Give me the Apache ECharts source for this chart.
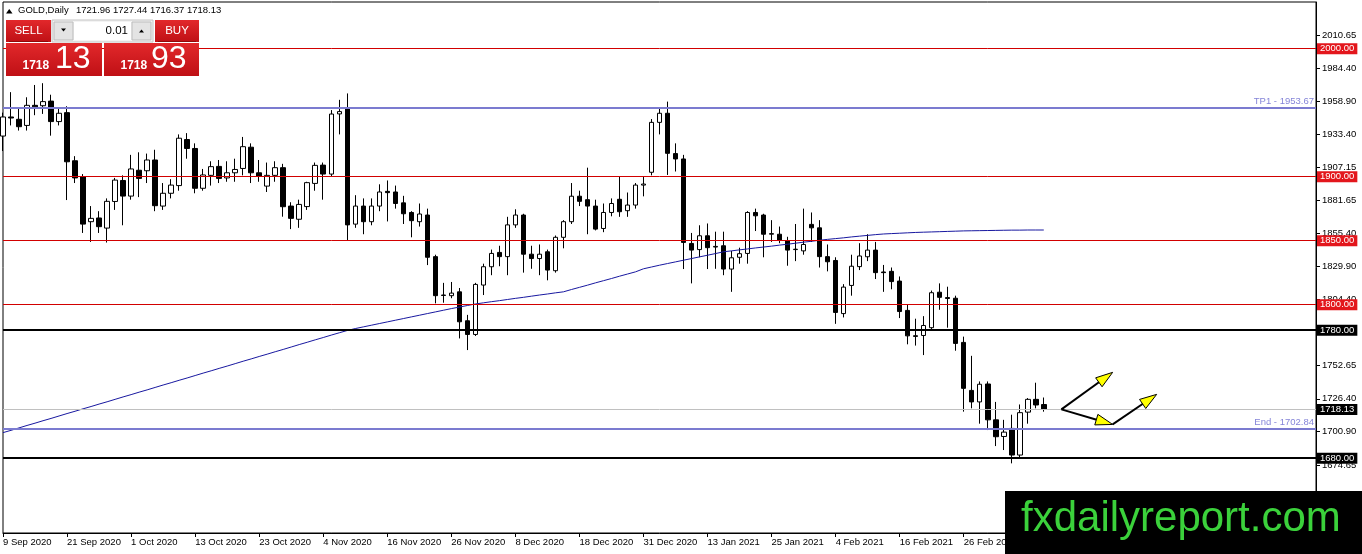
<!DOCTYPE html>
<html><head><meta charset="utf-8">
<script src="https://cdn.jsdelivr.net/npm/echarts@6/dist/echarts.min.js"></script>
<style>html,body{margin:0;padding:0;background:#fff}#c{width:1362px;height:554px}</style>
</head><body><div id="c"></div>
<script>
const dates = [
'9 Sep 2020','10 Sep 2020','11 Sep 2020','14 Sep 2020','15 Sep 2020','16 Sep 2020','17 Sep 2020','18 Sep 2020','21 Sep 2020','22 Sep 2020','23 Sep 2020','24 Sep 2020','25 Sep 2020','28 Sep 2020','29 Sep 2020','30 Sep 2020',
'1 Oct 2020','2 Oct 2020','5 Oct 2020','6 Oct 2020','7 Oct 2020','8 Oct 2020','9 Oct 2020','12 Oct 2020','13 Oct 2020','14 Oct 2020','15 Oct 2020','16 Oct 2020','19 Oct 2020','20 Oct 2020','21 Oct 2020','22 Oct 2020','23 Oct 2020','26 Oct 2020','27 Oct 2020','28 Oct 2020','29 Oct 2020','30 Oct 2020',
'2 Nov 2020','3 Nov 2020','4 Nov 2020','5 Nov 2020','6 Nov 2020','9 Nov 2020','10 Nov 2020','11 Nov 2020','12 Nov 2020','13 Nov 2020','16 Nov 2020','17 Nov 2020','18 Nov 2020','19 Nov 2020','20 Nov 2020','23 Nov 2020','24 Nov 2020','25 Nov 2020','26 Nov 2020','27 Nov 2020','30 Nov 2020',
'1 Dec 2020','2 Dec 2020','3 Dec 2020','4 Dec 2020','7 Dec 2020','8 Dec 2020','9 Dec 2020','10 Dec 2020','11 Dec 2020','14 Dec 2020','15 Dec 2020','16 Dec 2020','17 Dec 2020','18 Dec 2020','21 Dec 2020','22 Dec 2020','23 Dec 2020','24 Dec 2020','28 Dec 2020','29 Dec 2020','30 Dec 2020','31 Dec 2020',
'4 Jan 2021','5 Jan 2021','6 Jan 2021','7 Jan 2021','8 Jan 2021','11 Jan 2021','12 Jan 2021','13 Jan 2021','14 Jan 2021','15 Jan 2021','18 Jan 2021','19 Jan 2021','20 Jan 2021','21 Jan 2021','22 Jan 2021','25 Jan 2021','26 Jan 2021','27 Jan 2021','28 Jan 2021','29 Jan 2021',
'1 Feb 2021','2 Feb 2021','3 Feb 2021','4 Feb 2021','5 Feb 2021','8 Feb 2021','9 Feb 2021','10 Feb 2021','11 Feb 2021','12 Feb 2021','15 Feb 2021','16 Feb 2021','17 Feb 2021','18 Feb 2021','19 Feb 2021','22 Feb 2021','23 Feb 2021','24 Feb 2021','25 Feb 2021','26 Feb 2021',
'1 Mar 2021','2 Mar 2021','3 Mar 2021','4 Mar 2021','5 Mar 2021','8 Mar 2021','9 Mar 2021','10 Mar 2021','11 Mar 2021','12 Mar 2021'];
const openP = [1931.7,1946.6,1944.8,1940.0,1955.7,1955.4,1959.0,1943.0,1950.0,1912.4,1900.0,1864.8,1867.7,1859.8,1880.6,1897.0,
1884.8,1905.0,1904.6,1913.0,1877.0,1887.0,1893.0,1929.0,1922.0,1890.9,1901.0,1908.0,1899.0,1903.0,1906.4,1923.0,1903.0,1892.6,1901.0,1907.0,1877.0,1866.7,
1876.6,1894.7,1909.0,1902.0,1949.0,1953.4,1862.9,1877.0,1864.8,1877.0,1888.5,1888.0,1879.5,1872.0,1864.8,1870.0,1837.5,1807.5,1807.0,1810.0,1787.4,
1776.7,1815.3,1829.6,1840.8,1837.5,1862.3,1870.0,1839.4,1836.0,1841.3,1826.5,1852.6,1864.8,1884.7,1882.0,1877.0,1859.5,1872.0,1882.3,1873.4,1877.8,1893.4,
1903.4,1942.4,1949.5,1918.0,1913.8,1847.8,1843.0,1853.8,1845.0,1846.0,1827.8,1837.0,1840.0,1872.0,1870.0,1855.0,1855.0,1850.0,1843.0,1842.0,
1862.7,1860.0,1837.5,1834.5,1793.0,1815.0,1829.7,1837.4,1842.6,1825.5,1826.0,1818.4,1795.5,1775.7,1775.9,1782.0,1809.7,1805.5,1805.0,1770.5,
1733.0,1724.0,1738.0,1710.0,1697.0,1703.3,1682.5,1716.0,1726.0,1721.96];
const highP = [1950,1966,1953,1962,1971.6,1973,1964,1954,1955,1916,1902,1877,1873,1883,1899,1901,
1917,1919,1918,1921,1895,1898,1933,1934,1926,1906,1912,1913,1912,1914,1931,1926,1913,1911,1912,1910,1880,1882,
1896,1911,1911,1952,1960,1965,1885.5,1883,1883,1894,1897,1893,1885,1873,1879,1875,1839,1817,1817.7,1813,1792,
1817,1832,1843,1846,1868.6,1874.5,1871,1846,1847,1843,1854,1866,1895,1889,1907,1882,1879,1883,1900,1887.6,1895,1900,
1945,1954,1958.6,1926,1917,1856,1862,1863.4,1857,1857,1842,1844.5,1873,1875,1871,1866,1861,1853,1863,1875,
1872,1866,1847,1837,1816,1839,1848,1855,1849,1831,1829,1822,1800,1789,1791,1811,1816.6,1814,1807,1775,
1760,1740,1740,1724,1710,1714,1722,1727,1739,1727.44];
const lowP = [1920,1940,1936,1936,1948,1949,1932,1940,1881.7,1895,1856,1849,1856,1848.5,1874,1862,
1882,1884,1895,1873,1874,1883,1889,1914,1887,1889,1893,1895,1896,1896,1901,1895,1896,1888,1896,1868.7,1859,1860,
1874,1889,1882,1900,1933,1850.5,1860,1855,1862,1873,1865,1875,1863,1852.6,1861,1830.9,1801,1801.5,1805,1773.6,1764.5,
1775.5,1807.5,1823,1830,1823,1860,1825,1828,1823,1819,1825,1844,1863,1877,1855,1858,1856.6,1869,1868.6,1868.6,1875,1884.6,
1901,1933,1901.3,1904,1827.8,1816.6,1837,1827.8,1828,1823,1810,1832,1832,1857.5,1837,1849,1848,1830.4,1834,1839,
1849,1829,1826,1785,1790,1807,1827,1834,1820,1810,1812,1789.5,1769,1768,1760.6,1780,1796,1782,1764,1716.4,
1719,1707,1702,1689.5,1686.4,1676,1680,1707,1719,1716.37];
const closeP = [1946.6,1945.8,1939.0,1955.7,1954.5,1958.6,1943.0,1949.5,1911.6,1899.0,1862.9,1867.4,1860.9,1880.7,1897.3,1884.8,
1906.0,1898.6,1913.0,1877.3,1887.0,1893.4,1930.0,1922.0,1890.9,1901.3,1907.8,1898.6,1903.0,1905.6,1923.4,1903.0,1900.4,1901.0,1907.0,1876.5,1867.4,1878.3,
1895.3,1908.8,1902.0,1948.9,1950.8,1862.3,1877.0,1864.8,1877.0,1888.0,1887.5,1879.0,1871.0,1865.6,1870.8,1837.0,1807.0,1807.2,1809.0,1786.6,1776.7,
1815.8,1829.6,1840.0,1837.5,1862.3,1870.0,1839.4,1836.0,1839.4,1827.0,1852.6,1864.8,1884.7,1880.7,1877.0,1859.0,1872.0,1879.0,1872.6,1877.8,1893.4,1894.2,
1942.4,1949.5,1918.2,1913.8,1848.6,1842.6,1853.8,1844.5,1845.5,1827.8,1836.6,1839.8,1872.0,1869.4,1855.0,1855.5,1850.5,1842.6,1843.3,1847.0,
1860.0,1837.5,1833.5,1793.9,1813.7,1830.0,1838.0,1842.6,1825.0,1825.0,1818.0,1794.6,1775.6,1775.2,1783.7,1809.3,1805.7,1804.8,1769.7,1734.6,
1724.0,1737.8,1710.0,1696.8,1700.4,1682.5,1715.6,1726.0,1721.6,1718.13];
const ma = [1700.0,1701.8,1703.7,1705.6,1707.4,1709.3,1711.1,1713.0,1714.9,1716.7,1718.6,1720.4,1722.3,1724.1,1726.0,1727.9,
1729.7,1731.6,1733.4,1735.3,1737.2,1739.0,1740.9,1742.7,1744.6,1746.5,1748.3,1750.2,1752.0,1753.9,1755.8,1757.6,1759.5,1761.3,1763.2,1765.0,1766.9,1768.8,
1770.6,1772.5,1774.3,1776.2,1778.0,1779.8,1781.3,1782.6,1783.9,1785.2,1786.5,1787.8,1789.1,1790.4,1791.7,1793.0,1794.3,1795.6,1796.9,1798.1,1799.3,
1800.5,1801.4,1802.3,1803.1,1804.0,1804.9,1805.7,1806.6,1807.5,1808.3,1809.2,1810.0,1811.8,1813.5,1815.2,1817.0,1818.7,1820.4,1822.2,1823.9,1825.6,1828.0,
1829.4,1830.8,1832.1,1833.4,1834.7,1836.0,1837.3,1838.6,1839.9,1841.3,1842.0,1842.8,1843.5,1844.3,1845.0,1845.7,1846.5,1847.2,1848.0,1848.8,
1849.5,1850.3,1851.0,1851.6,1852.2,1852.9,1853.5,1854.1,1854.7,1855.2,1855.5,1855.8,1856.1,1856.4,1856.6,1856.8,1857.0,1857.2,1857.4,1857.6,
1857.7,1857.8,1857.9,1858.0,1858.1,1858.2,1858.2,1858.3,1858.3,1858.3];
const yTickValues = [2010.65,1984.40,1958.90,1933.40,1907.15,1881.65,1855.40,1829.90,1804.40,1778.90,1752.65,1726.40,1700.90,1674.65];
const redLevels = [2000, 1900, 1850, 1800];
const blackLevels = [1780, 1680];
const targetNames = ['TP1', 'End'];
const targetValues = [1953.67, 1702.84];
const lastPrice = 1718.13;
const headerSymbol = 'GOLD,Daily';
const headerOHLC = [1721.96, 1727.44, 1716.37, 1718.13];
const bidParts = ['1718', '13'];
const askParts = ['1718', '93'];
const lotSize = '0.01';
// arrows: [fromIndex, fromPrice] -> [toIndex, toPrice]
const arrowFrom = [[132.2, 1718.2], [132.2, 1718.2], [138.6, 1706.4]];
const arrowTo = [[138.6, 1747.1], [138.6, 1706.4], [144.1, 1729.9]];
const futureSlots = 34;

const FONT = '"Liberation Sans", Arial, sans-serif';
const categories = dates.concat(new Array(futureSlots).fill(''));
const candleData = dates.map((d, i) => [openP[i], closeP[i], lowP[i], highP[i]]);

const tag = (v, bg) => ({
  yAxis: v,
  lineStyle: {},
  label: {show: true, position: 'end', distance: 1, formatter: v.toFixed(2),
    backgroundColor: bg, color: '#fff', padding: [1, 3, 0, 3], fontSize: 9.5, fontFamily: FONT, lineHeight: 10}
});
const markData = [];
redLevels.forEach(v => { const t = tag(v, '#e3161c'); t.lineStyle = {color: '#d20000', width: 1, type: 'solid'}; markData.push(t); });
blackLevels.forEach(v => { const t = tag(v, '#000'); t.lineStyle = {color: '#000', width: 2, type: 'solid'}; markData.push(t); });
{ const t = tag(lastPrice, '#000'); t.lineStyle = {color: '#c0c0c0', width: 1, type: 'solid'}; markData.push(t); }
targetValues.forEach((v, i) => markData.push({
  yAxis: v,
  lineStyle: {color: '#7b7bd0', width: 2, type: 'solid'},
  label: {show: true, position: 'insideEndTop', distance: 2, formatter: targetNames[i] + ' - ' + v.toFixed(2),
    color: '#8585d8', fontSize: 9.5, fontFamily: FONT}
}));

const chart = echarts.init(document.getElementById('c'), null, {renderer: 'canvas'});
chart.setOption({
  animation: false,
  backgroundColor: '#fff',
  grid: {left: 3, right: 46, top: 2, bottom: 21, show: true, borderColor: '#000', borderWidth: 1, containLabel: false, outerBoundsMode: 'none'},
  xAxis: {
    type: 'category', data: categories, boundaryGap: false,
    axisLine: {show: true, lineStyle: {color: '#000', width: 1}},
    axisTick: {show: true, interval: 7, length: 4, lineStyle: {color: '#000'}},
    axisLabel: {show: true, interval: 7, align: 'left', margin: 4, color: '#000', fontSize: 9.5, fontFamily: FONT, showMinLabel: true, showMaxLabel: false},
    splitLine: {show: false}
  },
  yAxis: {
    type: 'value', position: 'right', min: 1621.59, max: 2036.43, scale: true,
    axisLine: {show: true, lineStyle: {color: '#000', width: 1}},
    axisTick: {show: true, length: 4, customValues: yTickValues, lineStyle: {color: '#000'}},
    axisLabel: {show: true, customValues: yTickValues, margin: 6, color: '#000', fontSize: 9.5, fontFamily: FONT, formatter: v => v.toFixed(2)},
    splitLine: {show: false}
  },
  series: [
    {
      type: 'candlestick', data: candleData, barWidth: 5, clip: true,
      itemStyle: {color: '#fff', color0: '#000', borderColor: '#000', borderColor0: '#000', borderWidth: 1},
      markLine: {silent: true, symbol: ['none', 'none'], animation: false, data: markData}
    },
    {
      type: 'line', data: ma, showSymbol: false, symbol: 'none', clip: true,
      lineStyle: {color: '#1818a0', width: 1}, z: 3
    }
  ]
});

// graphic overlay
const G = [];
const redGrad = () => new echarts.graphic.LinearGradient(0, 0, 0, 1, [{offset: 0, color: '#e2282b'}, {offset: 1, color: '#bf1015'}]);
// text placed by its baseline: y given is the baseline, converted to a middle anchor
const txt = (x, base, text, size, fill, opts) => Object.assign({type: 'text', x: x, y: base - 0.33 * size, z: 101,
  style: Object.assign({text: text, fill: fill, fontSize: size, fontFamily: FONT, align: 'left', verticalAlign: 'middle', textAlign: 'left', textVerticalAlign: 'middle'}, opts || {})});
// header
G.push({type: 'polygon', z: 101, shape: {points: [[6, 13.5], [12.5, 13.5], [9.25, 9]]}, style: {fill: '#000'}});
G.push(txt(18, 14, headerSymbol, 9.5, '#000'));
G.push(txt(76, 14, headerOHLC.map(v => v.toFixed(2)).join(' '), 9.5, '#000'));
// sell / buy buttons
G.push({type: 'rect', z: 100, shape: {x: 6, y: 20, width: 45, height: 22}, style: {fill: redGrad()}});
G.push({type: 'line', z: 101, shape: {x1: 9, y1: 41.5, x2: 48, y2: 41.5}, style: {stroke: '#8e0a0a', lineWidth: 1}});
G.push(txt(28.5, 35, 'SELL', 11.5, '#fff', {align: 'center', textAlign: 'center'}));
G.push({type: 'rect', z: 100, shape: {x: 52, y: 20, width: 101, height: 22}, style: {fill: '#f3f3f3', stroke: '#c4c4c4', lineWidth: 1}});
G.push({type: 'rect', z: 100, shape: {x: 54, y: 22, width: 19, height: 18}, style: {fill: '#e4e4e4', stroke: '#bdbdbd', lineWidth: 1}});
G.push({type: 'rect', z: 100, shape: {x: 74, y: 22, width: 57, height: 18}, style: {fill: '#fff'}});
G.push({type: 'rect', z: 100, shape: {x: 132, y: 22, width: 19, height: 18}, style: {fill: '#e4e4e4', stroke: '#bdbdbd', lineWidth: 1}});
G.push({type: 'polygon', z: 101, shape: {points: [[61, 28.5], [66, 28.5], [63.5, 31.5]]}, style: {fill: '#000'}});
G.push({type: 'polygon', z: 101, shape: {points: [[139, 32.5], [144, 32.5], [141.5, 29.5]]}, style: {fill: '#000'}});
G.push(txt(128, 35, lotSize, 11.5, '#000', {align: 'right', textAlign: 'right'}));
G.push({type: 'rect', z: 100, shape: {x: 155, y: 20, width: 44, height: 22}, style: {fill: redGrad()}});
G.push({type: 'line', z: 101, shape: {x1: 158, y1: 41.5, x2: 196, y2: 41.5}, style: {stroke: '#8e0a0a', lineWidth: 1}});
G.push(txt(177, 35, 'BUY', 11.5, '#fff', {align: 'center', textAlign: 'center'}));
// price boxes
G.push({type: 'rect', z: 100, shape: {x: 6, y: 43, width: 96, height: 33}, style: {fill: redGrad()}});
G.push({type: 'rect', z: 100, shape: {x: 104, y: 43, width: 95, height: 33}, style: {fill: redGrad()}});
G.push(txt(22.5, 69.5, bidParts[0], 12, '#fff', {fontWeight: 'bold'}));
G.push(txt(55, 69.5, bidParts[1], 32, '#fff'));
G.push(txt(120.5, 69.5, askParts[0], 12, '#fff', {fontWeight: 'bold'}));
G.push(txt(151, 69.5, askParts[1], 32, '#fff'));

// arrows placed through the chart's scales
const toPx = (idx, price) => {
  const a = chart.convertToPixel({gridIndex: 0}, [0, price]);
  const b = chart.convertToPixel({gridIndex: 0}, [10, price]);
  return [a[0] + (b[0] - a[0]) * idx / 10, a[1]];
};
arrowFrom.forEach((f, i) => {
  const P = toPx(f[0], f[1]);
  const Q = toPx(arrowTo[i][0], arrowTo[i][1]);
  const dx = Q[0] - P[0], dy = Q[1] - P[1];
  const len = Math.sqrt(dx * dx + dy * dy);
  const ux = dx / len, uy = dy / len;
  const L = 17, W = 5.5;
  const bx = Q[0] - ux * L, by = Q[1] - uy * L;
  const nx = -uy, ny = ux;
  G.push({type: 'line', z: 102, shape: {x1: P[0], y1: P[1], x2: bx + ux * 3, y2: by + uy * 3}, style: {stroke: '#000', lineWidth: 2}});
  G.push({type: 'polygon', z: 103, shape: {points: [[Q[0], Q[1]], [bx + nx * W, by + ny * W], [bx - nx * W, by - ny * W]]},
    style: {fill: '#ffff00', stroke: '#000', lineWidth: 1}});
});

// watermark
G.push({type: 'rect', z: 110, shape: {x: 1005, y: 491, width: 357, height: 63}, style: {fill: '#000'}});
G.push(Object.assign(txt(1021, 533, 'fxdailyreport.com', 42, '#3bd13b'), {z: 111}));

chart.setOption({graphic: {elements: G}});
</script></body></html>
